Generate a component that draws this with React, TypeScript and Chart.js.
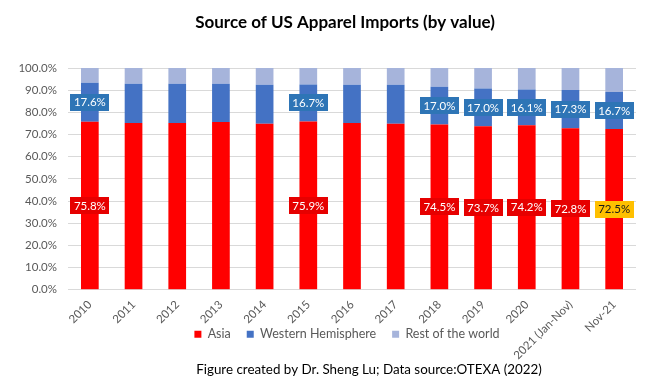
import React, { useEffect, useRef } from 'react';
import { Chart, registerables } from 'chart.js';

Chart.register(...registerables);

const categories = ['2010', '2011', '2012', '2013', '2014', '2015', '2016', '2017', '2018', '2019', '2020', '2021 (Jan-Nov)', 'Nov-21'];
const asia = [75.8, 75.2, 75.2, 75.7, 74.8, 75.9, 75.2, 74.8, 74.5, 73.7, 74.2, 72.8, 72.5];
const westernHemisphere = [17.6, 17.7, 17.7, 17.2, 17.6, 16.7, 17.2, 17.6, 17.0, 17.0, 16.1, 17.3, 16.7];
const restOfWorld = [6.6, 7.1, 7.1, 7.1, 7.6, 7.4, 7.6, 7.6, 8.5, 9.3, 9.7, 9.9, 10.8];
const labelledIndices = [0, 5, 8, 9, 10, 11, 12];
const highlightedAsiaIndex = 12;

const titleText = 'Source of US Apparel Imports (by value)';
const footerText = 'Figure created by Dr. Sheng Lu; Data source:OTEXA (2022)';

const FONT = 'Lato, "Open Sans", sans-serif';

const barLabelPlugin = {
  id: 'barLabels',
  afterDatasetsDraw(chart: any) {
    const ctx = chart.ctx;
    ctx.save();
    ctx.font = `11.5px ${FONT}`;
    ctx.textAlign = 'center';
    ctx.textBaseline = 'middle';
    const specs = [
      { ds: 0, bg: '#E60000', fg: '#FFFFFF' },
      { ds: 1, bg: '#2E75B6', fg: '#FFFFFF' },
    ];
    specs.forEach((spec) => {
      const meta = chart.getDatasetMeta(spec.ds);
      const values = chart.data.datasets[spec.ds].data;
      labelledIndices.forEach((i) => {
        const el = meta.data[i];
        if (!el) return;
        const { x, y, base } = el.getProps(['x', 'y', 'base'], true);
        const cy = (y + base) / 2;
        const text = Number(values[i]).toFixed(1) + '%';
        const w = ctx.measureText(text).width + 7;
        const h = 17;
        let bg = spec.bg;
        let fg = spec.fg;
        if (spec.ds === 0 && i === highlightedAsiaIndex) {
          bg = '#FFC000';
          fg = '#1A1A1A';
        }
        ctx.fillStyle = bg;
        ctx.fillRect(Math.round(x - w / 2), Math.round(cy - h / 2), Math.round(w), h);
        ctx.fillStyle = fg;
        ctx.fillText(text, x, cy + 0.5);
      });
    });
    ctx.restore();
  },
};

const repositionPlugin = {
  id: 'reposition',
  afterLayout(chart: any) {
    const shift = (box: any, dx: number, dy: number) => {
      if (!box) return;
      box.left += dx;
      box.right += dx;
      box.top += dy;
      box.bottom += dy;
    };
    shift(chart.titleBlock, 27, 0);
    const lg = chart.legend;
    if (lg) {
      lg.left += 29;
      lg.right += 29;
      lg.top = 312;
      lg.bottom = 350;
      lg.height = 38;
    }
    const sub = chart.boxes.find((b: any) => b !== chart.titleBlock && b.options && b.options.text === footerText);
    shift(sub, 51, 1);
  },
};

export default function App() {
  const canvasRef = useRef<HTMLCanvasElement | null>(null);

  useEffect(() => {
    if (!canvasRef.current) return;
    const chart = new Chart(canvasRef.current, {
      type: 'bar',
      data: {
        labels: categories,
        datasets: [
          { label: 'Asia', data: asia, backgroundColor: '#FF0000' },
          { label: 'Western Hemisphere', data: westernHemisphere, backgroundColor: '#4472C4' },
          { label: 'Rest of the world', data: restOfWorld, backgroundColor: '#A6B4DB' },
        ],
      },
      options: {
        responsive: false,
        animation: false,
        devicePixelRatio: 1,
        layout: { padding: { left: 0, right: 15, top: 0, bottom: 6.6 } },
        datasets: { bar: { categoryPercentage: 1, barPercentage: 0.405 } },
        scales: {
          x: {
            stacked: true,
            grid: { display: false, drawTicks: false },
            border: { display: false },
            ticks: {
              color: '#595959',
              font: { family: FONT, size: 11.5 },
              minRotation: 45,
              maxRotation: 45,
              padding: 8,
              autoSkip: false,
            },
            afterFit(scale: any) {
              scale.height = 70.6;
            },
          },
          y: {
            stacked: true,
            min: 0,
            max: 100,
            grid: { color: '#D9D9D9', drawTicks: false },
            border: { display: false },
            ticks: {
              stepSize: 10,
              color: '#595959',
              font: { family: FONT, size: 11.5 },
              padding: 11,
              callback: (v: any) => Number(v).toFixed(1) + '%',
            },
            afterFit(scale: any) {
              scale.width = 68;
            },
          },
        },
        plugins: {
          title: {
            display: true,
            text: titleText,
            color: '#000000',
            font: { family: FONT, size: 17, weight: 'bold' },
            padding: { top: 12, bottom: 35.6 },
          },
          subtitle: {
            display: true,
            position: 'bottom',
            text: footerText,
            color: '#000000',
            font: { family: FONT, size: 13.4, weight: 'normal' },
            padding: { top: 0, bottom: 0 },
          },
          legend: {
            display: true,
            position: 'bottom',
            maxHeight: 0.01,
            labels: {
              color: '#595959',
              font: { family: FONT, size: 12.5 },
              boxWidth: 7,
              boxHeight: 7,
              padding: 16,
            },
          },
          tooltip: { enabled: false },
        },
      },
      plugins: [barLabelPlugin, repositionPlugin],
    });
    return () => chart.destroy();
  }, []);

  return (
    <div style={{ position: 'absolute', left: 0, top: 0, width: 651, height: 383, background: '#FFFFFF' }}>
      <canvas ref={canvasRef} width={651} height={383} style={{ display: 'block' }} />
    </div>
  );
}
